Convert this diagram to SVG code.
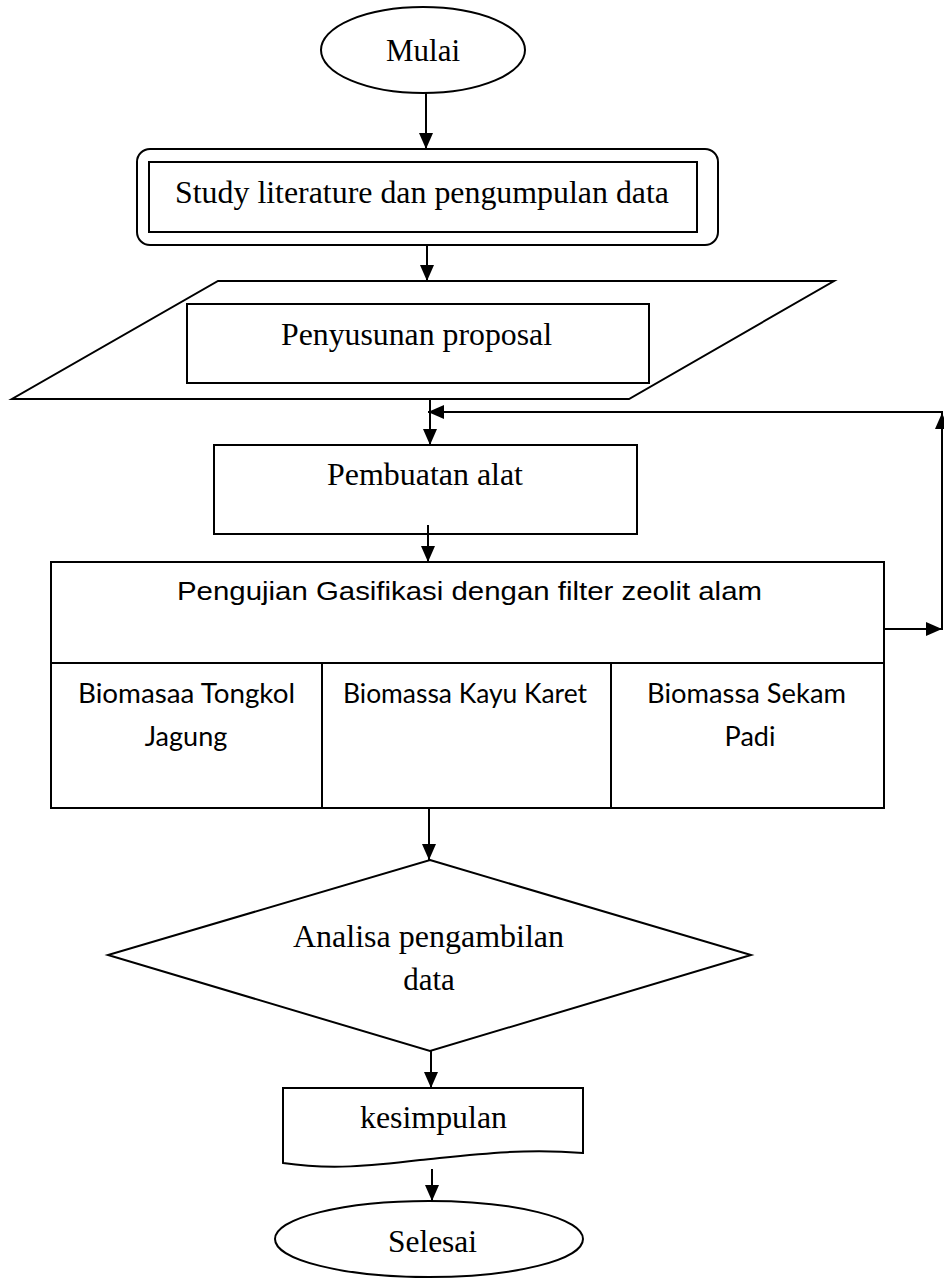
<svg xmlns="http://www.w3.org/2000/svg" width="944" height="1279" viewBox="0 0 944 1279">
<style>
.s{fill:#fff;stroke:#000;stroke-width:2}
.c{fill:none;stroke:#000;stroke-width:2}
.t{font-family:"Liberation Serif","Times New Roman",serif;font-size:31px;fill:#000}
.a{font-family:"Liberation Sans",Arial,sans-serif;font-size:26px;fill:#000}
.k{font-family:Lato,"Open Sans",sans-serif;font-size:27px;fill:#000}
</style>
<defs>
<marker id="ah" markerUnits="userSpaceOnUse" markerWidth="17" markerHeight="16" refX="16" refY="8" orient="auto">
<path d="M0,1 L16,8 L0,15 Z" fill="#000"/>
</marker>
</defs>
<rect width="944" height="1279" fill="#fff"/>
<g id="mulai">
<ellipse class="s" cx="423" cy="50" rx="102" ry="43"/>
<text class="t" x="386" y="61" textLength="74" lengthAdjust="spacingAndGlyphs">Mulai</text>
</g>
<g id="study">
<rect class="s" x="137" y="149" width="581" height="96" rx="13"/>
<rect class="s" x="149" y="162" width="548" height="70"/>
<text class="t" x="175" y="203" textLength="494" lengthAdjust="spacingAndGlyphs">Study literature dan pengumpulan data</text>
</g>
<g id="proposal">
<polygon class="s" points="218,281 834,281 629,399 12,399"/>
<rect class="s" x="187" y="304" width="462" height="79"/>
<text class="t" x="281" y="345" textLength="271" lengthAdjust="spacingAndGlyphs">Penyusunan proposal</text>
</g>
<g id="pembuatan">
<rect class="s" x="214" y="445" width="423" height="89"/>
<text class="t" x="327" y="485" textLength="196" lengthAdjust="spacingAndGlyphs">Pembuatan alat</text>
</g>
<g id="pengujian">
<rect class="s" x="51" y="562" width="833" height="246"/>
<line class="c" x1="51" y1="663" x2="884" y2="663"/>
<line class="c" x1="322" y1="663" x2="322" y2="808"/>
<line class="c" x1="611" y1="663" x2="611" y2="808"/>
<text class="a" x="177" y="600" textLength="585" lengthAdjust="spacingAndGlyphs">Pengujian Gasifikasi dengan filter zeolit alam</text>
<text class="k" x="78" y="703" textLength="217" lengthAdjust="spacingAndGlyphs">Biomasaa Tongkol</text>
<text class="k" x="186" y="746" text-anchor="middle">Jagung</text>
<text class="k" x="343" y="703" textLength="244" lengthAdjust="spacingAndGlyphs">Biomassa Kayu Karet</text>
<text class="k" x="647" y="703" textLength="199" lengthAdjust="spacingAndGlyphs">Biomassa Sekam</text>
<text class="k" x="750" y="746" text-anchor="middle">Padi</text>
</g>
<g id="analisa">
<polygon class="s" points="430,860 751,955 430,1051 108,955"/>
<text class="t" x="293" y="947" textLength="271" lengthAdjust="spacingAndGlyphs">Analisa pengambilan</text>
<text class="t" x="429" y="990" text-anchor="middle">data</text>
</g>
<g id="kesimpulan">
<path class="s" d="M283,1088 H583 V1153 C520,1148 470,1155 420,1160 C370,1166 330,1170 283,1163 Z"/>
<text class="t" x="360" y="1128" textLength="147" lengthAdjust="spacingAndGlyphs">kesimpulan</text>
</g>
<g id="selesai">
<ellipse class="s" cx="429" cy="1239" rx="154" ry="38"/>
<text class="t" x="388" y="1252" textLength="89" lengthAdjust="spacingAndGlyphs">Selesai</text>
</g>
<g id="connectors">
<line class="c" x1="426" y1="93" x2="426" y2="149" marker-end="url(#ah)"/>
<line class="c" x1="427" y1="245" x2="427" y2="281" marker-end="url(#ah)"/>
<line class="c" x1="430" y1="399" x2="430" y2="445" marker-end="url(#ah)"/>
<line class="c" x1="885" y1="629" x2="942" y2="629" marker-end="url(#ah)"/>
<line class="c" x1="942" y1="630" x2="942" y2="413" marker-end="url(#ah)"/>
<line class="c" x1="943" y1="412" x2="428" y2="412" marker-end="url(#ah)"/>
<line class="c" x1="428" y1="525" x2="428" y2="562" marker-end="url(#ah)"/>
<line class="c" x1="429" y1="808" x2="429" y2="860" marker-end="url(#ah)"/>
<line class="c" x1="431" y1="1051" x2="431" y2="1088" marker-end="url(#ah)"/>
<line class="c" x1="432" y1="1169" x2="432" y2="1201" marker-end="url(#ah)"/>
</g>
</svg>
